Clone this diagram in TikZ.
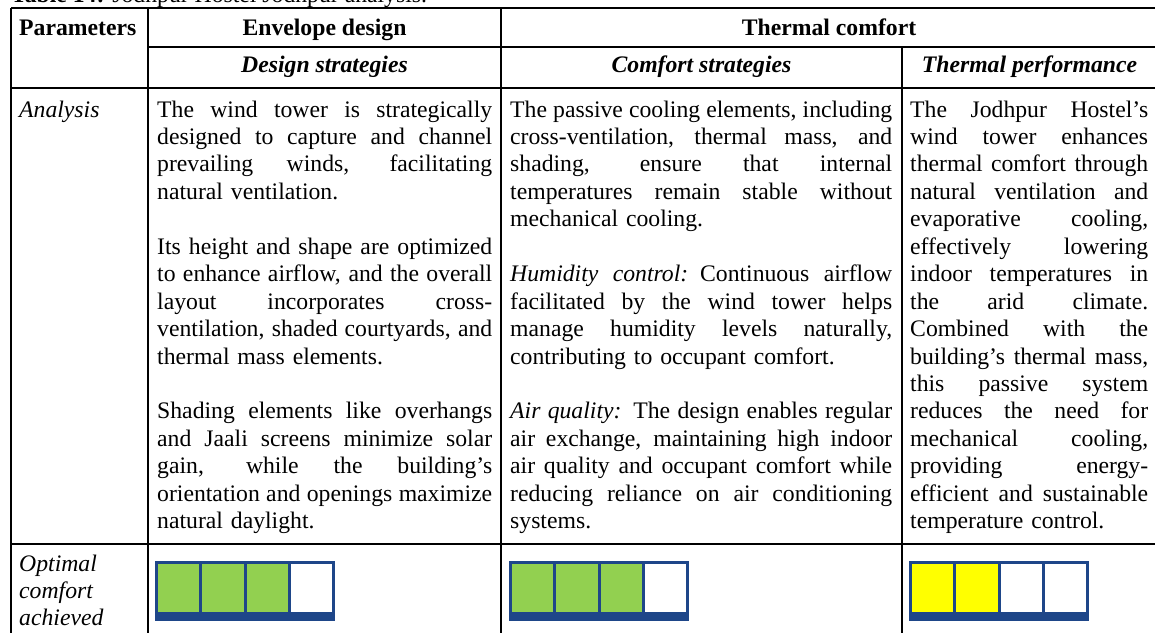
\documentclass[tikz,border=0pt]{standalone}
\usepackage{fontspec}
\setmainfont{Liberation Serif}
\definecolor{barblue}{RGB}{30,70,137}
\definecolor{okgreen}{RGB}{146,208,80}
\definecolor{okyellow}{RGB}{255,255,0}
\newlength{\cellw}
\newcommand{\jl}[1]{\leavevmode\hbox to\cellw{\spaceskip=0.25em plus 1fil minus 0.08em\relax #1}}

\begin{document}
\begin{tikzpicture}[x=1pt,y=-1pt,
  txt/.style={font=\fontsize{23.7}{27.45}\selectfont,inner sep=0pt,anchor=base west},
  mid/.style={txt,anchor=base},
  rule/.style={line width=1.8pt}]
\useasboundingbox (0,0) rectangle (1155,632);

\node[txt] (title) at (11,2) {\textbf{Table 14:} Jodhpur Hostel Jodhpur analysis.};

% grid
\draw[rule] (11,8) -- (1157,8);
\draw[rule] (148,47) -- (1157,47);
\draw[rule] (11,88) -- (1157,88);
\draw[rule] (11,544) -- (1157,544);
\draw[rule] (11,8) -- (11,640);
\draw[rule] (148,8) -- (148,640);
\draw[rule] (501,8) -- (501,640);
\draw[rule] (902,47) -- (902,640);
\draw[rule] (1157,8) -- (1157,640);

% headers
\node[txt] (param) at (19,35) {\textbf{Parameters}};
\node[mid] (env) at (324.5,35) {\textbf{Envelope design}};
\node[mid] (therm) at (829,35) {\textbf{Thermal comfort}};
\node[mid] (design) at (324.5,72) {\textbf{\textit{Design strategies}}};
\node[mid] (comfort) at (701.5,72) {\textbf{\textit{Comfort strategies}}};
\node[mid] (perf) at (1029.5,72) {\textbf{\textit{Thermal performance}}};

% analysis row
\node[txt] (analysis) at (19,117) {\textit{Analysis}};
\setlength{\cellw}{335pt}
\node[txt,text width=335pt,align=left] (envtext) at (157,117) {%
\jl{The wind tower is strategically}\\
\jl{designed to capture and channel}\\
\jl{prevailing winds, facilitating}\\
natural ventilation.\\[27.45pt]
\jl{Its height and shape are optimized}\\
\jl{to enhance airflow, and the overall}\\
\jl{layout incorporates cross-}\\
\jl{ventilation, shaded courtyards, and}\\
thermal mass elements.\\[27.45pt]
\jl{Shading elements like overhangs}\\
\jl{and Jaali screens minimize solar}\\
\jl{gain, while the building’s}\\
\jl{orientation and openings maximize}\\
natural daylight.};
\setlength{\cellw}{382pt}
\node[txt,text width=382pt,align=left] (comftext) at (510,117) {%
\jl{The passive cooling elements, including}\\
\jl{cross-ventilation, thermal mass, and}\\
\jl{shading, ensure that internal}\\
\jl{temperatures remain stable without}\\
mechanical cooling.\\[27.45pt]
\jl{\textit{Humidity control:} Continuous airflow}\\
\jl{facilitated by the wind tower helps}\\
\jl{manage humidity levels naturally,}\\
contributing to occupant comfort.\\[27.45pt]
\jl{\textit{Air quality:} The design enables regular}\\
\jl{air exchange, maintaining high indoor}\\
\jl{air quality and occupant comfort while}\\
\jl{reducing reliance on air conditioning}\\
systems.};
\setlength{\cellw}{238pt}
\node[txt,text width=238pt,align=left] (perftext) at (910,117) {%
\jl{The Jodhpur Hostel’s}\\
\jl{wind tower enhances}\\
\jl{thermal comfort through}\\
\jl{natural ventilation and}\\
\jl{evaporative cooling,}\\
\jl{effectively lowering}\\
\jl{indoor temperatures in}\\
\jl{the arid climate.}\\
\jl{Combined with the}\\
\jl{building’s thermal mass,}\\
\jl{this passive system}\\
\jl{reduces the need for}\\
\jl{mechanical cooling,}\\
\jl{providing energy-}\\
\jl{efficient and sustainable}\\
temperature control.};

% comfort bars
\node[txt,text width=120pt,align=left] (optimal) at (19,571) {\textit{Optimal}\\\textit{comfort}\\\textit{achieved}};
\foreach \x/\n/\c in {155/3/okgreen,509/3/okgreen,909/2/okyellow}{
  \fill[barblue] (\x,561) rectangle ++(180,60);
  \foreach \k in {0,...,3}{
    \ifnum\k<\n \fill[\c] (\x+3+\k*44.25,564) rectangle ++(41.25,48);
    \else \fill[white] (\x+3+\k*44.25,564) rectangle ++(41.25,48); \fi
  }
}

\end{tikzpicture}
\end{document}
